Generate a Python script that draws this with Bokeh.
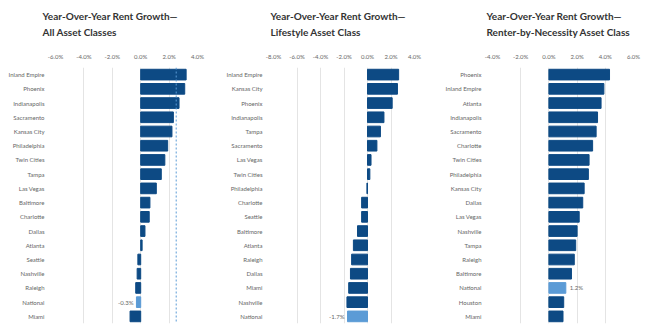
from bokeh.plotting import figure
from bokeh.layouts import row, column
from bokeh.models import FactorRange, FixedTicker, PrintfTickFormatter, Span, Range1d, ColumnDataSource
from bokeh.embed import file_html
from bokeh.resources import INLINE
from bokeh.core.properties import value

# ---------------- data ----------------
title1_a = "Year-Over-Year Rent Growth\u2014"
title1_b = "All Asset Classes"
cats1 = ["Inland Empire", "Phoenix", "Indianapolis", "Sacramento", "Kansas City", "Philadelphia",
         "Twin Cities", "Tampa", "Las Vegas", "Baltimore", "Charlotte", "Dallas", "Atlanta",
         "Seattle", "Nashville", "Raleigh", "National", "Miami"]
vals1 = [3.2, 3.1, 2.7, 2.3, 2.2, 1.9, 1.7, 1.45, 1.1, 0.65, 0.6, 0.3, 0.1,
         -0.2, -0.25, -0.35, -0.3, -0.75]
ticks1 = [-6, -4, -2, 0, 2, 4]
ref_line1 = 2.5

title2_a = "Year-Over-Year Rent Growth\u2014"
title2_b = "Lifestyle Asset Class"
cats2 = ["Inland Empire", "Kansas City", "Phoenix", "Indianapolis", "Tampa", "Sacramento",
         "Las Vegas", "Twin Cities", "Philadelphia", "Charlotte", "Seattle", "Baltimore",
         "Atlanta", "Raleigh", "Dallas", "Miami", "Nashville", "National"]
vals2 = [2.65, 2.55, 2.1, 1.4, 1.1, 0.8, 0.3, 0.2, -0.05, -0.5, -0.5, -0.85,
         -1.2, -1.35, -1.45, -1.6, -1.75, -1.7]
ticks2 = [-8, -6, -4, -2, 0, 2, 4]

title3_a = "Year-Over-Year Rent Growth\u2014"
title3_b = "Renter-by-Necessity Asset Class"
cats3 = ["Phoenix", "Inland Empire", "Atlanta", "Indianapolis", "Sacramento", "Charlotte",
         "Twin Cities", "Philadelphia", "Kansas City", "Dallas", "Las Vegas", "Nashville",
         "Tampa", "Raleigh", "Baltimore", "National", "Houston", "Miami"]
vals3 = [4.3, 3.9, 3.7, 3.45, 3.35, 3.1, 2.85, 2.8, 2.5, 2.4, 2.15, 2.0,
         1.9, 1.8, 1.6, 1.2, 1.05, 1.0]
ticks3 = [-4, -2, 0, 2, 4, 6]

highlight = "National"

NAVY = "#0d4a84"
LIGHT = "#5b9bd6"
FONT = "Lato"
TITLE_H = 45
W = 217


def title_fig(t_a, t_b, tx, left, right):
    fw = W - left - right
    t = figure(width=W, height=TITLE_H, x_range=Range1d(0, fw), y_range=Range1d(TITLE_H, 0),
               output_backend="svg", toolbar_location=None,
               x_axis_location=None, y_axis_location=None,
               min_border_left=left, min_border_right=right, min_border_top=0, min_border_bottom=0)
    t.grid.grid_line_color = None
    t.outline_line_color = None
    t.text(x=[tx - left, tx - left], y=[15, 31], text=[t_a, t_b], text_align="left",
           text_baseline="middle", text_font_size="10px", text_font=value(FONT),
           text_font_style="bold", text_color="#333333", level="overlay")
    return t


def panel(cats, vals, ticks, t_a, t_b, left, right, tx, ref=None, label_side="left"):
    p = figure(width=W, height=326 - TITLE_H, y_range=FactorRange(*reversed(cats)),
               x_range=(ticks[0], ticks[-1]), x_axis_location="above",
               output_backend="svg", toolbar_location=None,
               min_border_left=left, min_border_right=right,
               min_border_top=22, min_border_bottom=3)
    colors = [LIGHT if c == highlight else NAVY for c in cats]
    src = ColumnDataSource(dict(cat=cats, val=vals, color=colors))
    p.hbar(y="cat", left=0, right="val", height=0.75, color="color", source=src)
    if ref is not None:
        p.add_layout(Span(location=ref, dimension="height", line_color=LIGHT,
                          line_dash="2 2", line_width=1))
    i = cats.index(highlight)
    v = vals[i]
    txt = "%.1f%%" % v
    if label_side == "left":
        p.text(x=[v], y=[highlight], text=[txt], text_align="right", text_baseline="middle",
               x_offset=-3, text_font_size="6px", text_color="#666666", text_font=value(FONT))
    else:
        p.text(x=[v], y=[highlight], text=[txt], text_align="left", text_baseline="middle",
               x_offset=4, text_font_size="6px", text_color="#666666", text_font=value(FONT))

    xa = p.xaxis[0]
    xa.ticker = FixedTicker(ticks=ticks)
    xa.formatter = PrintfTickFormatter(format="%.1f%%")
    xa.axis_line_color = None
    xa.major_tick_line_color = None
    xa.minor_tick_line_color = None
    xa.major_label_text_font_size = "6px"
    xa.major_label_text_color = "#666666"
    xa.major_label_text_font = FONT
    xa.major_label_standoff = 2

    ya = p.yaxis[0]
    ya.axis_line_color = None
    ya.major_tick_line_color = None
    ya.minor_tick_line_color = None
    ya.major_label_text_font_size = "6px"
    ya.major_label_text_color = "#666666"
    ya.major_label_text_font = FONT
    ya.major_label_standoff = 5

    p.xgrid.ticker = FixedTicker(ticks=ticks)
    p.xgrid.grid_line_color = "#e4e4e4"
    p.ygrid.grid_line_color = None
    p.outline_line_color = None
    p.y_range.range_padding = 0.0

    return column(title_fig(t_a, t_b, tx, left, right), p, spacing=0)


c1 = panel(cats1, vals1, ticks1, title1_a, title1_b, 55, 20, 42, ref=ref_line1)
c2 = panel(cats2, vals2, ticks2, title2_a, title2_b, 56, 20, 53)
c3 = panel(cats3, vals3, ticks3, title3_a, title3_b, 58, 18, 52, label_side="right")

layout = row(c1, c2, c3, spacing=0)
open("out.html", "w").write(file_html(layout, INLINE))
